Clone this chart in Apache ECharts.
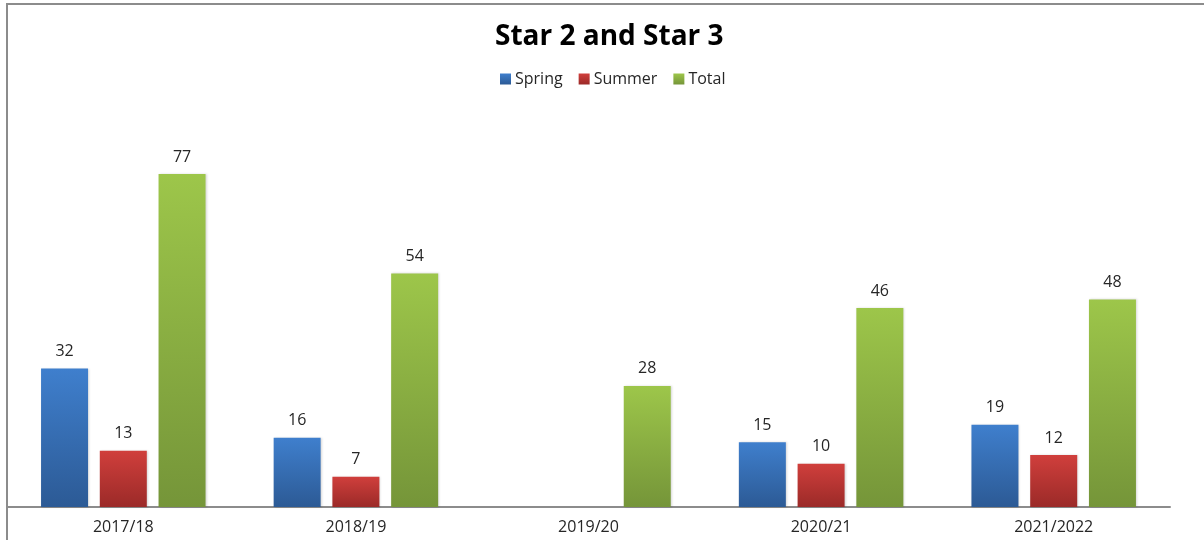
<!DOCTYPE html>
<html>
<head>
<meta charset="utf-8">
<style>
  html, body { margin: 0; padding: 0; background: #fff; }
  #chart { width: 1204px; height: 540px; }
</style>
<script src="https://cdn.jsdelivr.net/npm/echarts@6/dist/echarts.min.js"></script>
</head>
<body>
<div id="chart"></div>
<script>
const categories = ['2017/18', '2018/19', '2019/20', '2020/21', '2021/2022']
const spring = [32, 16, null, 15, 19]
const summer = [13, 7, null, 10, 12]
const total = [77, 54, 28, 46, 48]

function grad(top, bottom) {
  return new echarts.graphic.LinearGradient(0, 0, 0, 1, [
    { offset: 0, color: top },
    { offset: 1, color: bottom }
  ])
}

const labelStyle = {
  show: true,
  position: 'top',
  distance: 9,
  color: '#262626',
  fontSize: 16,
  fontFamily: 'Open Sans'
}

function makeSeries(name, data, top, bottom) {
  return {
    name: name,
    type: 'bar',
    data: data,
    barWidth: 47,
    barGap: '25%',
    itemStyle: {
      color: grad(top, bottom),
      shadowColor: 'rgba(0,0,0,0.15)',
      shadowBlur: 2,
      shadowOffsetX: 1
    },
    label: labelStyle,
    animation: false
  }
}

const chart = echarts.init(document.getElementById('chart'))
chart.setOption({
  backgroundColor: '#fff',
  title: {
    text: 'Star 2 and Star 3',
    left: 490,
    top: 18,
    textStyle: {
      fontFamily: 'Open Sans',
      fontWeight: 'bold',
      fontSize: 28,
      color: '#000'
    }
  },
  legend: {
    top: 66,
    left: 495,
    itemWidth: 11,
    itemHeight: 11,
    itemGap: 16,
    icon: 'rect',
    textStyle: { fontFamily: 'Open Sans', fontSize: 16, color: '#262626', padding: [0, 0, 0, -1] },
    data: ['Spring', 'Summer', 'Total']
  },
  grid: {
    left: 7,
    right: 34,
    top: 161,
    bottom: 33
  },
  xAxis: {
    type: 'category',
    data: categories,
    axisLine: { lineStyle: { color: '#8c8c8c', width: 2 } },
    axisTick: { show: false },
    axisLabel: {
      color: '#262626',
      fontSize: 16,
      fontFamily: 'Open Sans',
      margin: 12
    }
  },
  yAxis: {
    type: 'value',
    min: 0,
    max: 80,
    show: false
  },
  graphic: [{
    type: 'rect',
    shape: { x: 7, y: 4, width: 1400, height: 700 },
    style: { fill: 'none', stroke: '#8c8c8c', lineWidth: 2 },
    silent: true
  }],
  series: [
    makeSeries('Spring', spring, '#3f7fcd', '#2c5a95'),
    makeSeries('Summer', summer, '#d03f3c', '#9b2a28'),
    makeSeries('Total', total, '#9dc64a', '#759539')
  ]
})
</script>
</body>
</html>
